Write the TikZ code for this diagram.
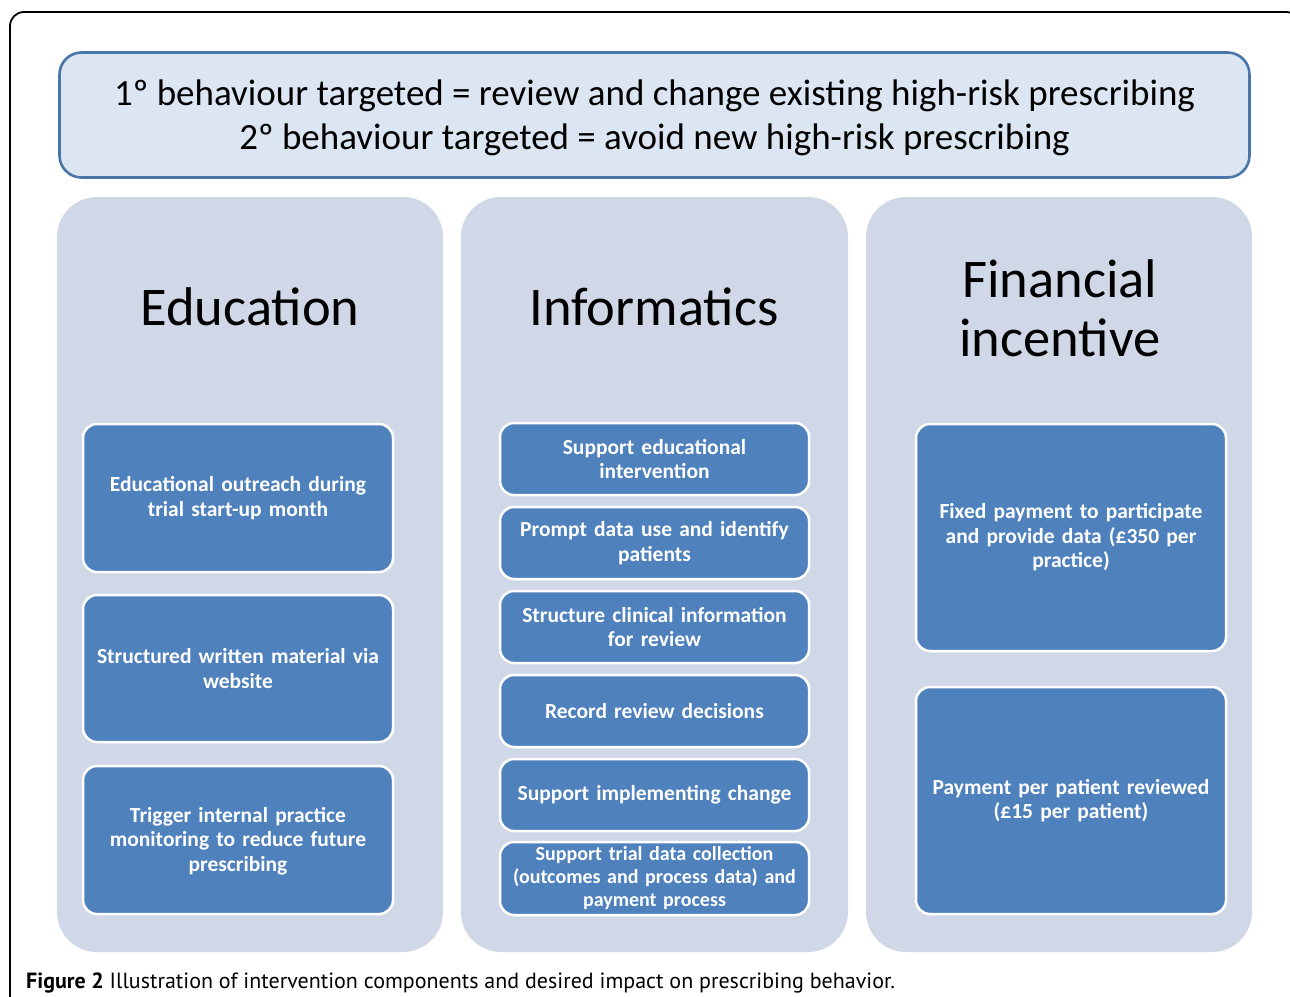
\documentclass[tikz,border=0pt]{standalone}
\usepackage{fontspec}
\setmainfont{Carlito}
\newfontfamily\capfont{PT Sans}
\definecolor{hdrfill}{HTML}{DCE6F2}
\definecolor{hdrline}{HTML}{4A75A8}
\definecolor{panelfill}{HTML}{D0D8E8}
\definecolor{boxfill}{HTML}{4F81BD}
\begin{document}
\begin{tikzpicture}[x=1pt,y=-1pt,
  panel/.style={fill=panelfill, draw=none, rounded corners=40pt},
  bluebox/.style={fill=boxfill, draw=white, line width=2.5pt, rounded corners=14pt},
  boxtext/.style={text=white, font=\fontsize{21.5}{24.5}\selectfont\bfseries, align=center, text width=300pt},
  title/.style={font=\fontsize{54.5}{59}\selectfont, align=center}
]
\useasboundingbox (0,0) rectangle (1290,996);
\fill[white] (0,0) rectangle (1290,996);
% outer frame
\begin{scope}
\clip (0,0) rectangle (1290,996);
\draw[black, line width=1.8pt, rounded corners=14pt] (10,12) rectangle (1300,1010);
\end{scope}
% header
\node[draw=hdrline, line width=2.6pt, fill=hdrfill, rounded corners=22pt, minimum width=1190pt, minimum height=125pt, inner sep=0pt] (hdr) at (654.5,115) {};
\node[font=\fontsize{37}{44}\selectfont, align=center] (hdrtext) at (654.5,118) {1º behaviour targeted = review and change existing high-risk prescribing\\2º behaviour targeted = avoid new high-risk prescribing};
% panels
\node[panel, minimum width=386pt, minimum height=755pt] (p1) at (250,574.5) {};
\node[panel, minimum width=387pt, minimum height=755pt] (p2) at (654.5,574.5) {};
\node[panel, minimum width=386pt, minimum height=755pt] (p3) at (1059,574.5) {};
% titles
\node[title] (t1) at (250,307) {Education};
\node[title] (t2) at (654,307) {Informatics};
\node[title] (t3) at (1060,308) {Financial\\incentive};
% education boxes
\node[bluebox, minimum width=310pt, minimum height=148pt] (e1) at (238,498) {};
\node[boxtext] at (e1) {Educational outreach during\\trial start-up month};
\node[bluebox, minimum width=310pt, minimum height=147pt] (e2) at (238,668.5) {};
\node[boxtext] at (e2) {Structured written material via\\website};
\node[bluebox, minimum width=310pt, minimum height=148pt] (e3) at (238,840) {};
\node[boxtext] at ([yshift=-1pt]e3) {Trigger internal practice\\monitoring to reduce future\\prescribing};
% informatics boxes
\node[bluebox, minimum width=309pt, minimum height=72pt] (i1) at (654.5,459) {};
\node[boxtext] at (i1) {Support educational\\intervention};
\node[bluebox, minimum width=309pt, minimum height=72pt] (i2) at (654.5,543) {};
\node[boxtext] at (i2) {Prompt data use and identify\\patients};
\node[bluebox, minimum width=309pt, minimum height=72pt] (i3) at (654.5,627) {};
\node[boxtext] at (i3) {Structure clinical information\\for review};
\node[bluebox, minimum width=309pt, minimum height=72pt] (i4) at (654.5,711) {};
\node[boxtext] at (i4) {Record review decisions};
\node[bluebox, minimum width=309pt, minimum height=72pt] (i5) at (654.5,795) {};
\node[boxtext] at (i5) {Support implementing change};
\node[bluebox, minimum width=309pt, minimum height=73pt] (i6) at (654.5,878.5) {};
\node[boxtext, font=\fontsize{20}{23}\selectfont\bfseries] at (i6) {Support trial data collection\\(outcomes and process data) and\\payment process};
% financial boxes
\node[bluebox, minimum width=310pt, minimum height=227pt] (f1) at (1071,537.5) {};
\node[boxtext] at (f1) {Fixed payment to participate\\and provide data (£350 per\\practice)};
\node[bluebox, minimum width=310pt, minimum height=227pt] (f2) at (1071,800.5) {};
\node[boxtext] at (f2) {Payment per patient reviewed\\(£15 per patient)};
% caption
\node[anchor=west, inner sep=0pt, font=\capfont\fontsize{22}{24}\selectfont] (cap) at (26,983) {\textbf{Figure 2} Illustration of intervention components and desired impact on prescribing behavior.};
\end{tikzpicture}
\end{document}
